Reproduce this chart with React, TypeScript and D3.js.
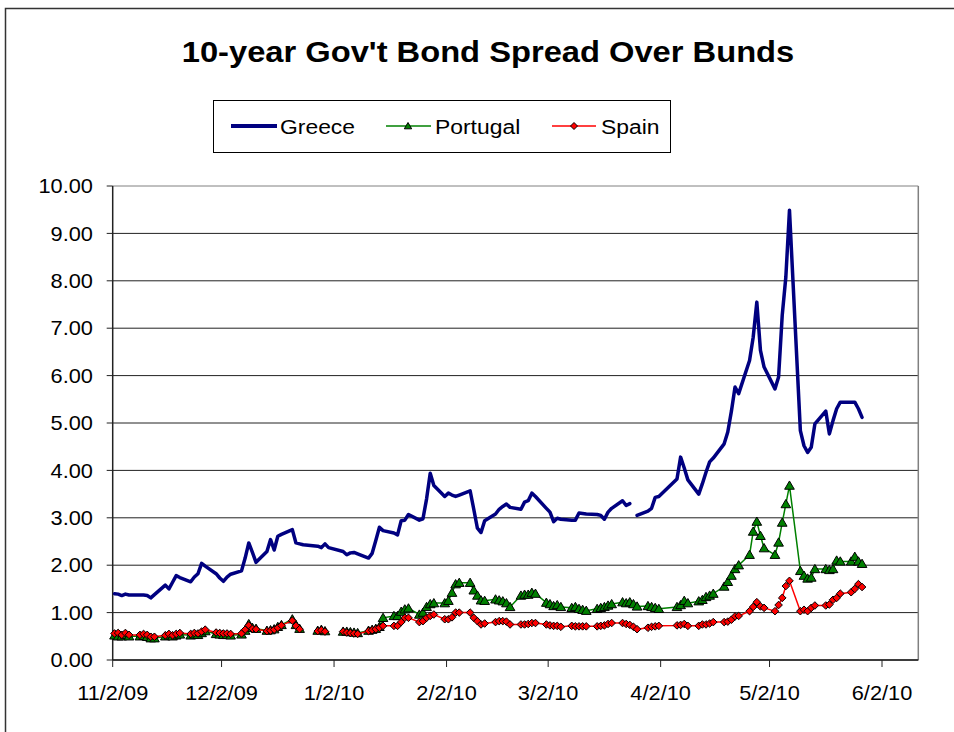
import React from 'react';
import * as d3 from 'd3';

const title = "10-year Gov't Bond Spread Over Bunds";
const seriesNames = ['Greece', 'Portugal', 'Spain'];

const dates = [
  // Nov 2009
  '2009-11-02','2009-11-03','2009-11-04','2009-11-05','2009-11-06',
  '2009-11-09','2009-11-10','2009-11-11','2009-11-12','2009-11-13',
  '2009-11-16','2009-11-17','2009-11-18','2009-11-19','2009-11-20',
  '2009-11-23','2009-11-24','2009-11-25','2009-11-26','2009-11-27',
  '2009-11-30',
  // Dec 2009
  '2009-12-01','2009-12-02','2009-12-03','2009-12-04',
  '2009-12-07','2009-12-08','2009-12-09','2009-12-10','2009-12-11',
  '2009-12-14','2009-12-15','2009-12-16','2009-12-17','2009-12-18',
  '2009-12-21','2009-12-22','2009-12-23','2009-12-24',
  '2009-12-28','2009-12-29','2009-12-30','2009-12-31',
  // Jan 2010
  '2010-01-04','2010-01-05','2010-01-06','2010-01-07','2010-01-08',
  '2010-01-11','2010-01-12','2010-01-13','2010-01-14','2010-01-15',
  '2010-01-18','2010-01-19','2010-01-20','2010-01-21','2010-01-22',
  '2010-01-25','2010-01-26','2010-01-27','2010-01-28','2010-01-29',
  // Feb 2010
  '2010-02-01','2010-02-02','2010-02-03','2010-02-04','2010-02-05',
  '2010-02-08','2010-02-09','2010-02-10','2010-02-11','2010-02-12',
  '2010-02-15','2010-02-16','2010-02-17','2010-02-18','2010-02-19',
  '2010-02-22','2010-02-23','2010-02-24','2010-02-25','2010-02-26',
  // Mar 2010
  '2010-03-01','2010-03-02','2010-03-03','2010-03-04','2010-03-05',
  '2010-03-08','2010-03-09','2010-03-10','2010-03-11','2010-03-12',
  '2010-03-15','2010-03-16','2010-03-17','2010-03-18','2010-03-19',
  '2010-03-22','2010-03-23','2010-03-24','2010-03-25','2010-03-26',
  '2010-03-29','2010-03-30','2010-03-31',
  // Apr 2010
  '2010-04-01',
  '2010-04-06','2010-04-07','2010-04-08','2010-04-09',
  '2010-04-12','2010-04-13','2010-04-14','2010-04-15','2010-04-16',
  '2010-04-19','2010-04-20','2010-04-21','2010-04-22','2010-04-23',
  '2010-04-26','2010-04-27','2010-04-28','2010-04-29','2010-04-30',
  // May 2010
  '2010-05-03','2010-05-04','2010-05-05','2010-05-06','2010-05-07',
  '2010-05-10','2010-05-11','2010-05-12','2010-05-13','2010-05-14',
  '2010-05-17','2010-05-18','2010-05-19','2010-05-20','2010-05-21',
  '2010-05-24','2010-05-25','2010-05-26','2010-05-27',
];

const greece: (number | null)[] = [
  1.40, 1.39, 1.36, 1.39, 1.37,
  1.37, 1.37, 1.36, 1.31, 1.38,
  1.58, 1.50, 1.64, 1.78, 1.74,
  1.65, 1.75, 1.82, 2.04, 1.98,
  1.82,
  1.73, 1.66, 1.75, 1.81,
  1.88, 2.15, 2.47, 2.27, 2.06,
  2.29, 2.54, 2.32, 2.61, 2.65,
  2.75, 2.47, 2.45, 2.43,
  2.40, 2.37, 2.45, 2.37,
  2.29, 2.22, 2.26, 2.27, 2.24,
  2.15, 2.25, 2.52, 2.80, 2.73,
  2.68, 2.64, 2.94, 2.95, 3.07,
  2.95, 2.98, 3.40, 3.94, 3.68,
  3.45, 3.52, 3.48, 3.45, 3.48,
  3.57, 3.18, 2.78, 2.69, 2.94,
  3.08, 3.18, 3.24, 3.29, 3.22,
  3.18, 3.33, 3.36, 3.52, 3.45,
  3.20, 3.12, 2.92, 2.99, 2.97,
  2.95, 2.95, 3.10, 3.09, 3.08,
  3.07, 3.05, 2.97, 3.12, 3.20,
  3.36, 3.26, 3.30, null, 3.05,
  3.14, 3.20, 3.43,
  3.45,
  3.82, 4.28, 4.05, 3.80,
  3.50, 3.72, 3.96, 4.18, 4.26,
  4.56, 4.81, 5.25, 5.76, 5.62,
  6.32, 6.81, 7.55, 6.53, 6.18,
  5.72, 5.97, 7.27, 8.08, 9.49,
  4.84, 4.52, 4.38, 4.49, 4.98,
  5.25, 4.77, 5.05, 5.30, 5.44,
  5.44, 5.44, 5.30, 5.12,
];

const portugal: (number | null)[] = [
  0.52, 0.50, 0.50, 0.53, 0.50,
  0.50, 0.51, 0.49, 0.46, 0.46,
  0.50, 0.52, 0.50, 0.52, 0.54,
  0.52, 0.54, 0.53, 0.57, 0.61,
  0.55,
  0.54, 0.53, 0.53, 0.52,
  0.54, 0.62, 0.76, 0.68, 0.66,
  0.62, 0.63, 0.65, 0.70, 0.74,
  0.86, 0.74, 0.66, null,
  0.62, 0.64, 0.61, null,
  0.60, 0.60, 0.59, 0.58, 0.57,
  0.62, 0.64, 0.66, 0.70, 0.89,
  0.93, 0.93, 1.02, 1.07, 1.09,
  0.96, 1.00, 1.12, 1.18, 1.20,
  1.20, 1.25, 1.42, 1.60, 1.63,
  1.63, 1.47, 1.36, 1.26, 1.25,
  1.28, 1.26, 1.24, 1.20, 1.12,
  1.36, 1.38, 1.38, 1.42, 1.40,
  1.21, 1.18, 1.14, 1.16, 1.12,
  1.10, 1.12, 1.08, 1.06, 1.04,
  1.08, 1.10, 1.12, 1.15, 1.18,
  1.22, 1.20, 1.22, 1.18, 1.13,
  1.14, 1.12, 1.10,
  1.08,
  1.12, 1.16, 1.25, 1.20,
  1.24, 1.27, 1.33, 1.36, 1.40,
  1.55, 1.65, 1.78, 1.92, 2.00,
  2.22, 2.71, 2.92, 2.62, 2.36,
  2.22, 2.48, 2.90, 3.29, 3.68,
  1.88, 1.78, 1.72, 1.74, 1.92,
  1.92, 1.90, 1.92, 2.10, 2.08,
  2.08, 2.18, 2.08, 2.03,
];

const spain: (number | null)[] = [
  0.56, 0.57, 0.53, 0.57, 0.53,
  0.53, 0.55, 0.53, 0.49, 0.49,
  0.52, 0.55, 0.52, 0.55, 0.57,
  0.55, 0.57, 0.56, 0.60, 0.64,
  0.58,
  0.57, 0.56, 0.56, 0.55,
  0.56, 0.64, 0.73, 0.66, 0.65,
  0.61, 0.62, 0.64, 0.68, 0.73,
  0.83, 0.72, 0.65, null,
  0.61, 0.63, 0.60, null,
  0.60, 0.58, 0.57, 0.56, 0.55,
  0.61, 0.63, 0.65, 0.68, 0.72,
  0.72, 0.72, 0.80, 0.89, 0.89,
  0.80, 0.82, 0.89, 0.93, 0.96,
  0.86, 0.86, 0.90, 1.00, 1.00,
  1.00, 0.89, 0.82, 0.75, 0.77,
  0.80, 0.82, 0.82, 0.81, 0.75,
  0.75, 0.75, 0.76, 0.78, 0.78,
  0.75, 0.73, 0.72, 0.72, 0.70,
  0.72, 0.71, 0.71, 0.71, 0.71,
  0.71, 0.72, 0.73, 0.76, 0.78,
  0.78, 0.76, 0.74, 0.70, 0.65,
  0.68, 0.70, 0.71,
  0.72,
  0.73, 0.74, 0.76, 0.72,
  0.72, 0.75, 0.75, 0.77, 0.80,
  0.80, 0.81, 0.85, 0.92, 0.93,
  1.03, 1.12, 1.22, 1.13, 1.10,
  1.03, 1.16, 1.31, 1.56, 1.67,
  1.03, 1.06, 1.03, 1.10, 1.15,
  1.15, 1.17, 1.27, 1.31, 1.40,
  1.43, 1.50, 1.60, 1.54,
];

const yTicks = [0, 1, 2, 3, 4, 5, 6, 7, 8, 9, 10];
const xTickDates = ['2009-11-02','2009-12-02','2010-01-02','2010-02-02','2010-03-02','2010-04-02','2010-05-02','2010-06-02'];
const xTickLabels = ['11/2/09','12/2/09','1/2/10','2/2/10','3/2/10','4/2/10','5/2/10','6/2/10'];
const xDomain = ['2009-11-02', '2010-06-12'];

const FONT = '"Liberation Sans", Arial, sans-serif';
const SX = 1.09;

const triPath = (s: number) => `M0,${-s}L${s * 1.05},${s * 0.8}L${-s * 1.05},${s * 0.8}Z`;
const diaPath = (s: number) => `M0,${-s}L${s},0L0,${s}L${-s},0Z`;

function SText({ x, y, anchor, size, weight, children }: any) {
  return (
    <g transform={`translate(${x},${y}) scale(${SX},1)`}>
      <text textAnchor={anchor} fontSize={size} fontWeight={weight || 'normal'} fontFamily={FONT} fill="#000">
        {children}
      </text>
    </g>
  );
}

export default function App() {
  const parse = d3.utcParse('%Y-%m-%d');
  const left = 112.7, right = 918.3, top = 186, bottom = 660;
  const x = d3.scaleUtc().domain([parse(xDomain[0])!, parse(xDomain[1])!]).range([left, right]);
  const y = d3.scaleLinear().domain([0, 10]).range([bottom, top]);
  const dayW = x(parse('2009-11-03')!) - x(parse('2009-11-02')!);
  const xs = dates.map((d) => x(parse(d)!) + dayW / 2);

  const mk = (vals: (number | null)[]) => vals.map((v, i) => [xs[i], v] as [number, number | null]);
  const line = d3
    .line<[number, number | null]>()
    .defined((d) => d[1] != null)
    .x((d) => d[0])
    .y((d) => y(d[1] as number));

  const gPts = mk(greece);
  const pPts = mk(portugal);
  const sPts = mk(spain);

  return (
    <svg width={954} height={732} style={{ position: 'absolute', left: 0, top: 0, background: '#fff' }}>
      <rect x={0} y={0} width={954} height={732} fill="#fff" />
      <rect x={5.5} y={8.5} width={980} height={760} fill="none" stroke="#333" strokeWidth={1.5} />

      <SText x={488} y={62} anchor="middle" size={30} weight="bold">{title}</SText>

      {/* legend */}
      <rect x={213.5} y={100.5} width={457} height={52} fill="#fff" stroke="#000" strokeWidth={1} />
      <line x1={231} x2={277} y1={126} y2={126} stroke="#000080" strokeWidth={4} />
      <SText x={280} y={133.5} anchor="start" size={21}>{seriesNames[0]}</SText>
      <line x1={386} x2={431} y1={126} y2={126} stroke="#008000" strokeWidth={1.5} />
      <path d={triPath(3.5)} transform="translate(408,126)" fill="#008000" stroke="#000" strokeWidth={1} />
      <SText x={435} y={133.5} anchor="start" size={21}>{seriesNames[1]}</SText>
      <line x1={552} x2={596} y1={126} y2={126} stroke="#ff0000" strokeWidth={1.5} />
      <path d={diaPath(3.5)} transform="translate(574,126)" fill="#ff0000" stroke="#000" strokeWidth={1} />
      <SText x={601} y={133.5} anchor="start" size={21}>{seriesNames[2]}</SText>

      {/* grid */}
      {yTicks.map((t) => (
        <line key={'g' + t} x1={left} x2={right} y1={y(t)} y2={y(t)} stroke={t === 10 ? '#808080' : '#222'} strokeWidth={1} />
      ))}
      <line x1={right} x2={right} y1={top} y2={bottom} stroke="#808080" strokeWidth={1.5} />

      {/* axes */}
      <line x1={left} x2={left} y1={top} y2={bottom} stroke="#222" strokeWidth={1.5} />
      <line x1={left} x2={right} y1={bottom} y2={bottom} stroke="#222" strokeWidth={1.5} />
      {yTicks.map((t) => (
        <g key={'yt' + t}>
          <line x1={left - 6} x2={left} y1={y(t)} y2={y(t)} stroke="#222" strokeWidth={1} />
          <SText x={93} y={y(t) + 7.2} anchor="end" size={20}>{d3.format('.2f')(t)}</SText>
        </g>
      ))}
      {xTickDates.map((d, i) => {
        const xx = x(parse(d)!);
        return (
          <g key={'xt' + d}>
            <line x1={xx} x2={xx} y1={bottom} y2={bottom + 7} stroke="#222" strokeWidth={1} />
            <SText x={xx} y={699.5} anchor="middle" size={20}>{xTickLabels[i]}</SText>
          </g>
        );
      })}

      {/* series */}
      <path d={line(gPts) || ''} fill="none" stroke="#000080" strokeWidth={3.5} strokeLinejoin="round" strokeLinecap="round" />
      <path d={line(pPts) || ''} fill="none" stroke="#008000" strokeWidth={1.5} />
      {pPts.filter((p) => p[1] != null).map((p, i) => (
        <path key={'p' + i} d={triPath(4.6)} transform={`translate(${p[0]},${y(p[1] as number)})`} fill="#008000" stroke="#000" strokeWidth={1} />
      ))}
      <path d={line(sPts) || ''} fill="none" stroke="#ff0000" strokeWidth={1.5} />
      {sPts.filter((p) => p[1] != null).map((p, i) => (
        <path key={'s' + i} d={diaPath(3.8)} transform={`translate(${p[0]},${y(p[1] as number)})`} fill="#ff0000" stroke="#000" strokeWidth={1} />
      ))}
    </svg>
  );
}
